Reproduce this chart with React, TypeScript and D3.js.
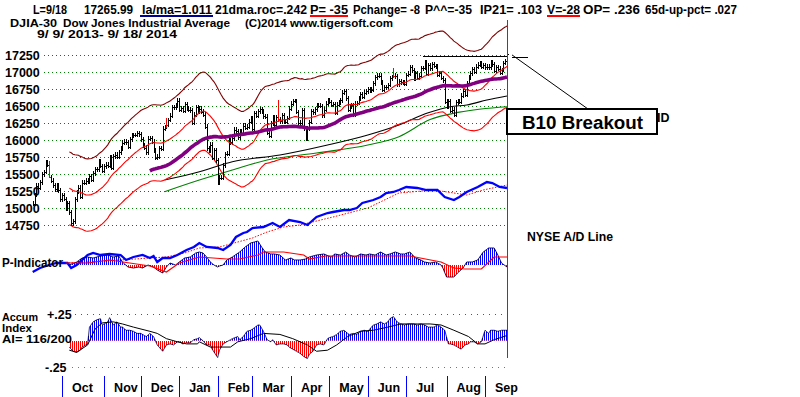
import React from "react";
import * as d3 from "d3";

// DJIA daily closes, 9/9/2013 .. 9/18/2014 (260 trading days)
const CLOSES = [
  15063, 15191, 15326, 15300, 15376, 15494, 15529, 15676, 15636, 15451, 15401, 15334, 15273, 15328, 15258, 15129,
  15191, 15133, 14996, 15072, 14936, 14776, 14802, 15126, 15237, 15301, 15168, 15373, 15371, 15399, 15392, 15467, 15413, 15509, 15570, 15568, 15680, 15618, 15546,
  15615, 15639, 15618, 15746, 15593, 15761, 15783, 15750, 15821, 15876, 15962, 15976, 15967, 15900, 16009, 16064, 16073, 16073, 16097, 16086,
  16008, 15915, 15889, 15821, 16020, 16025, 15973, 15844, 15739, 15755, 15884, 15875, 16167, 16179, 16221, 16294, 16357, 16479, 16478, 16504, 16577,
  16441, 16470, 16425, 16531, 16463, 16444, 16437, 16257, 16374, 16482, 16418, 16459, 16414, 16374, 16198, 15879, 15838, 15929, 15739, 15849, 15699,
  15373, 15445, 15441, 15629, 15795, 15801, 15994, 15964, 16027, 16154, 16130, 16041, 16133, 16104, 16208, 16179, 16198, 16272, 16322,
  16168, 16396, 16360, 16422, 16453, 16419, 16351, 16341, 16109, 16066, 16247, 16337, 16223, 16331, 16303, 16277, 16368, 16268, 16264, 16323, 16458,
  16533, 16573, 16572, 16413, 16246, 16256, 16437, 16171, 16027, 16174, 16263, 16425, 16409, 16449, 16514, 16502, 16501, 16361, 16448, 16535, 16581,
  16559, 16513, 16531, 16402, 16518, 16551, 16583, 16696, 16715, 16613, 16447, 16491, 16511, 16374, 16533, 16543, 16607, 16676, 16633, 16698, 16717,
  16743, 16722, 16738, 16836, 16924, 16943, 16945, 16843, 16734, 16776, 16781, 16808, 16906, 16921, 16947, 16937, 16818, 16868, 16846, 16851, 16827,
  16957, 16976, 17068, 17024, 16906, 16985, 16915, 16944, 17055, 17060, 17138, 16976, 17100, 17052, 17114, 17087, 17083, 16961, 16983, 16913, 16880, 16563,
  16493, 16569, 16430, 16443, 16369, 16554, 16570, 16561, 16652, 16714, 16663, 16839, 16919, 16979, 17039, 17001, 17077, 17107, 17122, 17079, 17098,
  17068, 17079, 17069, 17138, 17111, 17014, 17068, 17050, 16988, 17031, 17132, 17157, 17266,
];

const MONTHS = ["Oct", "Nov", "Dec", "Jan", "Feb", "Mar", "Apr", "May", "Jun", "Jul", "Aug", "Sep"];
const MONTH_START = [16, 39, 59, 80, 101, 120, 141, 162, 183, 204, 226, 247];
const PRICE_TICKS = [14750, 15000, 15250, 15500, 15750, 16000, 16250, 16500, 16750, 17000, 17250];

// option-expiration days drawn in red: [day, high, low]
const RED_BARS = [
  [9, 15697, 15441],
  [73, 16324, 16176],
  [134, 16588, 16265],
  [197, 17059, 16912],
];

// longer moving averages: [day, value]
const BLACK_MA = [
  [72, 15412], [91, 15534], [109, 15681], [135, 15779], [161, 15926], [183, 16074],
  [200, 16221], [216, 16400], [228, 16490], [237, 16515], [248, 16588], [259, 16647],
];
const GREEN_MA = [
  [72, 15240], [91, 15412], [109, 15559], [128, 15706], [155, 15809], [183, 15926],
  [200, 16049], [217, 16300], [233, 16410], [259, 16490],
];

// NYSE A/D line (relative units) and its red dotted average
const AD_LINE = [
  [0, 3], [4, 7], [9, 10], [13, 12], [19, 12], [21, 7], [24, 10], [27, 15], [30, 20], [33, 22], [37, 20],
  [42, 21], [48, 20], [51, 15], [55, 18], [60, 20], [64, 17], [66, 19], [68, 13], [71, 17], [75, 17], [79, 20],
  [84, 25], [88, 28], [91, 32], [95, 28], [101, 27], [104, 25], [108, 30], [111, 38], [115, 42], [117, 43],
  [120, 47], [126, 48], [131, 52], [135, 48], [140, 55], [146, 53], [150, 50], [155, 58], [161, 62], [164, 63],
  [170, 65], [173, 65], [177, 67], [180, 72], [186, 75], [190, 78], [193, 82], [197, 83], [200, 85], [204, 88],
  [210, 87], [215, 85], [221, 85], [225, 78], [230, 75], [233, 78], [237, 83], [243, 88], [248, 93], [251, 92],
  [255, 88], [259, 87],
];
const AD_MA = [
  [18, 12], [31, 13], [48, 15], [64, 17], [73, 18], [83, 22], [91, 27], [102, 28], [110, 32], [120, 37],
  [128, 43], [137, 48], [146, 50], [164, 58], [183, 67], [200, 82], [219, 85], [230, 82], [237, 80], [246, 85],
  [259, 90],
];

// P-Indicator samples and its red average
const P_IND = [
  [20, 0], [24, 30], [27, 70], [30, 80], [33, 70], [37, 90], [41, 100], [44, 80], [47, 90], [49, 30], [52, -20],
  [55, -30], [58, -20], [60, -30], [63, 0], [66, -20], [68, -50], [70, -70], [71, -80], [73, -20], [75, 20],
  [78, 0], [80, 30], [83, 70], [86, 80], [89, 120], [91, 130], [93, 120], [95, 80], [97, 30], [99, 0],
  [101, -20], [102, -10], [104, 0], [106, 50], [109, 80], [113, 130], [116, 180], [119, 220], [121, 230],
  [123, 240], [125, 180], [127, 130], [130, 110], [132, 110], [135, 100], [138, 50], [141, 70], [143, 50],
  [146, 50], [149, 60], [151, 80], [155, 100], [159, 110], [163, 80], [165, 110], [168, 100], [171, 130],
  [173, 100], [176, 80], [179, 110], [182, 100], [184, 110], [187, 100], [190, 130], [193, 100], [195, 110],
  [198, 130], [201, 110], [203, 110], [206, 130], [209, 70], [212, 50], [214, 30], [217, 20], [220, 30],
  [223, 0], [224, -30], [226, -120], [230, -120], [232, -80], [235, -30], [237, 30], [240, 30], [243, 50],
  [246, 130], [249, 170], [252, 170], [254, 100], [256, 20], [259, -20],
];
const P_MA = [
  [18, 20], [30, 20], [42, 50], [53, 20], [64, -10], [73, -70], [80, 20], [91, 80], [106, 60], [113, 60],
  [123, 100], [126, 130], [137, 130], [148, 100], [151, 60], [160, 90], [183, 90], [206, 90], [223, 30],
  [230, -30], [236, -40], [245, -40], [252, 80], [259, 80],
];

// Accumulation Index (hundredths) and its black average
const AI = [
  [20, -6], [22, -10], [24, -11], [26, -9], [27, -6], [30, -3], [31, 13], [33, 18], [35, 20], [37, 21], [38, 15],
  [41, 18], [42, 22], [44, 15], [46, 18], [48, 13], [49, 13], [51, 10], [53, 10], [55, 9], [57, 7], [59, 7],
  [60, 6], [62, 4], [64, 7], [66, 4], [68, -4], [70, -8], [71, -10], [73, -4], [75, -3], [77, -4], [79, -1],
  [80, -1], [82, -3], [84, -2], [86, -2], [88, 1], [90, 2], [91, 3], [93, 0], [95, -4], [97, -4], [98, -8],
  [101, -16], [102, -9], [104, -3], [106, -1], [108, 1], [109, 2], [112, 4], [113, 1], [115, 4], [117, 9],
  [119, 10], [120, 11], [123, 15], [124, 15], [126, 9], [128, 1], [130, -1], [131, 1], [133, -4], [135, -3],
  [137, -3], [139, -4], [140, -6], [142, -8], [144, -10], [146, -12], [148, -15], [150, -17], [151, -13],
  [153, -10], [155, -4], [157, -3], [159, -4], [161, 2], [162, 3], [164, 4], [166, 6], [168, 9], [170, 10],
  [172, 7], [173, 6], [175, 7], [177, 6], [179, 9], [181, 10], [183, 9], [184, 11], [186, 15], [188, 16],
  [190, 18], [192, 16], [194, 18], [195, 21], [197, 23], [199, 18], [201, 16], [203, 15], [205, 16], [206, 16],
  [208, 16], [210, 15], [212, 16], [214, 15], [216, 13], [217, 13], [219, 13], [221, 15], [223, 13], [225, 10],
  [227, -3], [228, -3], [230, -4], [232, -6], [234, -8], [236, -4], [238, -3], [239, -1], [241, -1], [243, -3],
  [245, -1], [247, 10], [249, 7], [250, 10], [252, 10], [254, 9], [256, 10], [258, 10], [259, 10],
];
const AI_MA = [
  [20, -9], [24, -11], [30, -4], [34, 11], [38, 17], [44, 18], [49, 16], [55, 13], [64, 9], [68, 7], [73, 2],
  [79, -1], [84, -3], [90, -3], [91, -1], [97, -6], [102, -6], [108, -6], [112, -1], [119, 2], [126, 7],
  [135, 6], [142, 2], [150, -4], [155, -10], [161, -9], [166, -4], [172, 4], [179, 9], [186, 10], [194, 13],
  [201, 16], [210, 16], [217, 16], [223, 15], [230, 10], [238, 4], [243, -3], [247, -3], [252, 1], [259, 5],
];

const RESIST = { from: 213, to: 259, level: 17225 };

const HEADER1 = [
  ["L=9/18", 33, 67], ["17265.99", 84, 133], ["la/ma=1.011", 142, 212], ["21dma.roc=.242", 215, 307],
  ["P= -35", 310, 348], ["Pchange= -8", 353, 420], ["P^^=-35", 425, 472], ["IP21= .103", 480, 542],
  ["V=-28", 547, 580], ["OP= .236", 583, 640], ["65d-up-pct= .027", 645, 737],
];
const HEADER2 = [
  ["DJIA-30", 10, 57], ["Dow Jones Industrial Average", 63, 230], ["(C)2014 www.tigersoft.com", 245, 393],
];

const FONT = "'Liberation Sans', Arial, Helvetica, sans-serif";

export default function App() {
  const x = d3.scaleLinear().domain([0, CLOSES.length - 1]).range([32.7, 507]);
  const y = d3.scaleLinear().domain([14750, 17250]).range([225, 55]);
  const adY = d3.scaleLinear().domain([0, 100]).range([275, 175]);
  const pY = d3.scaleLinear().domain([0, 100]).range([265, 255]);
  const aiY = d3.scaleLinear().domain([-25, 25]).range([367, 314.5]);

  const ma = (n: number) =>
    CLOSES.map((c, i) => (i < n - 1 ? null : (d3.mean(CLOSES.slice(i - n + 1, i + 1)) as number)));
  const ma21 = ma(21);
  const ma65 = ma(65);
  const upper = ma21.map((v) => (v == null ? null : v * 1.035));
  const lower = ma21.map((v) => (v == null ? null : v * 0.965));

  const series = d3
    .line<number | null>()
    .defined((d) => d != null)
    .x((_, i) => x(i))
    .y((d) => y(d as number));

  const ptLine = (ys: d3.ScaleLinear<number, number>) =>
    d3.line<number[]>().x((d) => x(d[0])).y((d) => ys(d[1]));

  const pArea = d3.area<number[]>().x((d) => x(d[0])).y0(pY(0)).y1((d) => pY(d[1]));
  const aiArea = d3.area<number[]>().x((d) => x(d[0])).y0(aiY(0)).y1((d) => aiY(d[1]));

  const redMap = new Map(RED_BARS.map((r) => [r[0], r]));
  const PAD = 35;
  const bars = CLOSES.map((c, i) => {
    const prev = i > 0 ? CLOSES[i - 1] : c;
    const r = redMap.get(i);
    const hi = r ? r[1] : Math.max(prev, c) + PAD;
    const lo = r ? r[2] : Math.min(prev, c) - PAD;
    return { i, c, hi, lo, red: !!r };
  });

  const bold = { fontFamily: FONT, fontWeight: 700 as const };
  const last = CLOSES.length - 1;
  const tipX = x(last) + 5;
  const tipY = y(CLOSES[last]) + 1;
  const endX = Math.round(x(last)) + 0.5;

  return (
    <svg
      width={800}
      height={397}
      style={{ position: "absolute", left: 0, top: 0, background: "#fff" }}
      shapeRendering="crispEdges"
    >
      <defs>
        <pattern id="stB" width="2" height="4" patternUnits="userSpaceOnUse">
          <rect width="1" height="4" fill="#0000ff" />
        </pattern>
        <pattern id="stR" width="2" height="4" patternUnits="userSpaceOnUse">
          <rect width="1" height="4" fill="#ff0000" />
        </pattern>
        <clipPath id="pPos"><rect x="0" y="200" width="800" height={pY(0) - 200} /></clipPath>
        <clipPath id="pNeg"><rect x="0" y={pY(0)} width="800" height="40" /></clipPath>
        <clipPath id="aPos"><rect x="0" y="290" width="800" height={aiY(0) - 290} /></clipPath>
        <clipPath id="aNeg"><rect x="0" y={aiY(0)} width="800" height="40" /></clipPath>
      </defs>
      <rect width={800} height={397} fill="#fff" />

      {/* header */}
      {HEADER1.map(([t, a, b]) => (
        <text key={t as string} x={a as number} y={13.5} fontSize={12} {...bold}
          textLength={(b as number) - (a as number)} lengthAdjust="spacingAndGlyphs">{t}</text>
      ))}
      <rect x={140} y={14.5} width={73} height={2} fill="#000090" />
      <rect x={310} y={14.5} width={38} height={2} fill="#ff0000" />
      <rect x={547} y={14.5} width={33} height={2} fill="#ff0000" />
      {HEADER2.map(([t, a, b]) => (
        <text key={t as string} x={a as number} y={26.5} fontSize={11} {...bold}
          textLength={(b as number) - (a as number)} lengthAdjust="spacingAndGlyphs">{t}</text>
      ))}
      <text x={37} y={37.5} fontSize={10} {...bold} textLength={140} lengthAdjust="spacingAndGlyphs">
        9/ 9/ 2013- 9/ 18/ 2014
      </text>

      {/* price grid */}
      {PRICE_TICKS.map((t) => (
        <g key={t}>
          <line x1={44} x2={507} y1={Math.round(y(t)) + 0.5} y2={Math.round(y(t)) + 0.5}
            stroke="#008000" strokeDasharray="1,3" />
          <text x={5} y={y(t) + 4.5} fontSize={12.5} {...bold}>{t}</text>
        </g>
      ))}

      {/* A/D line */}
      <path d={ptLine(adY)(AD_MA) as string} fill="none" stroke="#ff0000" strokeWidth={1}
        strokeDasharray="1.5,1.5" shapeRendering="auto" />
      <path d={ptLine(adY)(AD_LINE) as string} fill="none" stroke="#0000ff" strokeWidth={2.3}
        shapeRendering="auto" />

      {/* long MAs */}
      <path d={d3.line<number[]>().x((d) => x(d[0])).y((d) => y(d[1])).curve(d3.curveMonotoneX)(GREEN_MA) as string}
        fill="none" stroke="#008000" strokeWidth={1.1} shapeRendering="auto" />
      <path d={d3.line<number[]>().x((d) => x(d[0])).y((d) => y(d[1])).curve(d3.curveMonotoneX)(BLACK_MA) as string}
        fill="none" stroke="#000" strokeWidth={1.1} shapeRendering="auto" />

      {/* bands */}
      <path d={series(upper) as string} fill="none" stroke="#800000" strokeWidth={1.1} shapeRendering="auto" />
      <path d={series(lower) as string} fill="none" stroke="#ff0000" strokeWidth={1.1} shapeRendering="auto" />

      {/* price bars */}
      {bars.map((b) => (
        <g key={b.i} stroke={b.red ? "#ff0000" : "#000"} strokeWidth={1}>
          <line x1={Math.round(x(b.i)) + 0.5} x2={Math.round(x(b.i)) + 0.5} y1={y(b.hi)} y2={y(b.lo)} />
          <line x1={Math.round(x(b.i))} x2={Math.round(x(b.i)) + 2} y1={Math.round(y(b.c)) + 0.5}
            y2={Math.round(y(b.c)) + 0.5} />
        </g>
      ))}

      <path d={series(ma21) as string} fill="none" stroke="#ff0000" strokeWidth={1.1} shapeRendering="auto" />
      <path d={series(ma65) as string} fill="none" stroke="#800080" strokeWidth={3.6} shapeRendering="auto" />

      {/* resistance */}
      <line x1={x(RESIST.from)} x2={x(RESIST.to)} y1={y(RESIST.level)} y2={y(RESIST.level)} stroke="#000" />

      {/* P-indicator */}
      <path d={pArea(P_IND) as string} fill="url(#stB)" clipPath="url(#pPos)" />
      <path d={pArea(P_IND) as string} fill="url(#stR)" clipPath="url(#pNeg)" />
      <path d={ptLine(pY)(P_IND) as string} fill="none" stroke="#000040" strokeWidth={0.9} shapeRendering="auto" />
      <path d={ptLine(pY)(P_MA) as string} fill="none" stroke="#ff0000" strokeWidth={1.2} shapeRendering="auto" />
      <text x={2} y={267} fontSize={12.5} {...bold} textLength={61} lengthAdjust="spacingAndGlyphs">P-Indicator</text>

      {/* Accum index */}
      <line x1={75} x2={507} y1={314.5} y2={314.5} stroke="#555" strokeDasharray="1,5" />
      <line x1={72} x2={507} y1={367.5} y2={367.5} stroke="#c040c0" strokeDasharray="1,5" />
      <path d={aiArea(AI) as string} fill="url(#stB)" clipPath="url(#aPos)" />
      <path d={aiArea(AI) as string} fill="url(#stR)" clipPath="url(#aNeg)" />
      <path d={ptLine(aiY)(AI) as string} fill="none" stroke="#000040" strokeWidth={0.8} shapeRendering="auto" />
      <path d={ptLine(aiY)(AI_MA) as string} fill="none" stroke="#000" strokeWidth={1} shapeRendering="auto" />
      <text x={47} y={319} fontSize={12.5} {...bold}>+.25</text>
      <text x={45} y={371.5} fontSize={12.5} {...bold}>-.25</text>
      <text x={2} y={321} fontSize={10} {...bold} textLength={36} lengthAdjust="spacingAndGlyphs">Accum</text>
      <text x={2} y={332} fontSize={10} {...bold} textLength={30} lengthAdjust="spacingAndGlyphs">Index</text>
      <text x={2} y={343} fontSize={10} {...bold} textLength={70} lengthAdjust="spacingAndGlyphs">AI= 116/200</text>

      {/* months */}
      {MONTH_START.map((d, k) => (
        <g key={d}>
          <line x1={Math.round(x(d)) + 0.5} x2={Math.round(x(d)) + 0.5} y1={376} y2={397} stroke="#0000ff" />
          <text x={x(d) + 10} y={391.5} fontSize={12.5} {...bold}>{MONTHS[k]}</text>
        </g>
      ))}

      {/* current-day marker */}
      <line x1={endX} x2={endX} y1={20} y2={358} stroke="#008000" strokeWidth={1} />

      {/* annotations */}
      <text x={527} y={241} fontSize={12.5} {...bold} textLength={86} lengthAdjust="spacingAndGlyphs">NYSE A/D Line</text>
      <text x={657} y={122} fontSize={12.5} {...bold}>ID</text>
      <line x1={tipX} y1={tipY} x2={588} y2={109} stroke="#000" shapeRendering="auto" />
      <line x1={tipX} x2={528} y1={tipY + 3} y2={tipY + 3} stroke="#000" />
      <rect x={507} y={109} width={150} height={25} fill="#fff" stroke="#000" strokeWidth={2} />
      <text x={522} y={128.5} fontSize={18} {...bold} textLength={121} lengthAdjust="spacingAndGlyphs">B10 Breakout</text>
    </svg>
  );
}
